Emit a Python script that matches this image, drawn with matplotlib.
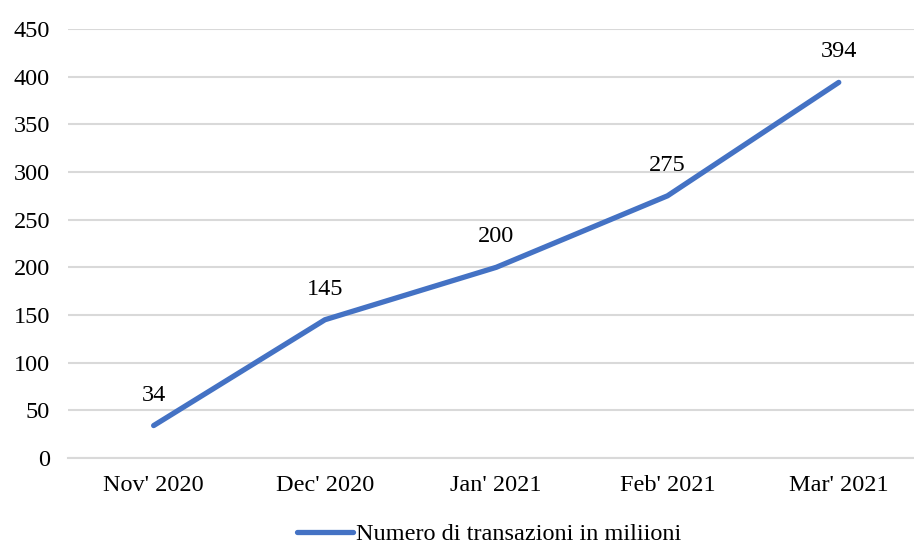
import matplotlib.pyplot as plt

plt.rcParams['font.family'] = ['Liberation Serif', 'DejaVu Serif']
plt.rcParams['font.size'] = 17.5

mesi = ["Nov' 2020", "Dec' 2020", "Jan' 2021", "Feb' 2021", "Mar' 2021"]
transazioni = [34, 145, 200, 275, 394]
y_ticks = [0, 50, 100, 150, 200, 250, 300, 350, 400, 450]

blu = '#4472C4'
grigio = '#D9D9D9'

fig = plt.figure(figsize=(9.14, 5.46), dpi=100)
ax = fig.add_axes([0.0744, 0.1612, 0.937, 0.7857])

x = list(range(len(mesi)))
ax.plot(x, transazioni, color=blu, linewidth=3.8, solid_capstyle='round',
        solid_joinstyle='round', label='Numero di transazioni in miliioni', zorder=3)

for xi, v in zip(x, transazioni):
    ax.annotate(str(v), (xi, v), xytext=(0, 22), textcoords='offset points',
                ha='center', va='center')

ax.set_xlim(-0.5, len(mesi) - 0.5)
ax.set_ylim(0, 450)
ax.set_yticks(y_ticks)
ax.set_xticks(x)
ax.set_xticklabels(mesi)
ax.yaxis.grid(True, color=grigio, linewidth=1.5)
ax.set_axisbelow(True)
for s in ['left', 'right', 'top']:
    ax.spines[s].set_visible(False)
ax.spines['bottom'].set_color(grigio)
ax.spines['bottom'].set_linewidth(1.5)
ax.tick_params(axis='both', length=0)
ax.tick_params(axis='y', pad=13)
ax.tick_params(axis='x', pad=12)

fig.legend(loc='center', bbox_to_anchor=(489 / 914, 1 - 534 / 546), frameon=False,
           handlelength=2.3, handletextpad=0.1, borderpad=0.1)

fig.savefig('out.png', dpi=100)
